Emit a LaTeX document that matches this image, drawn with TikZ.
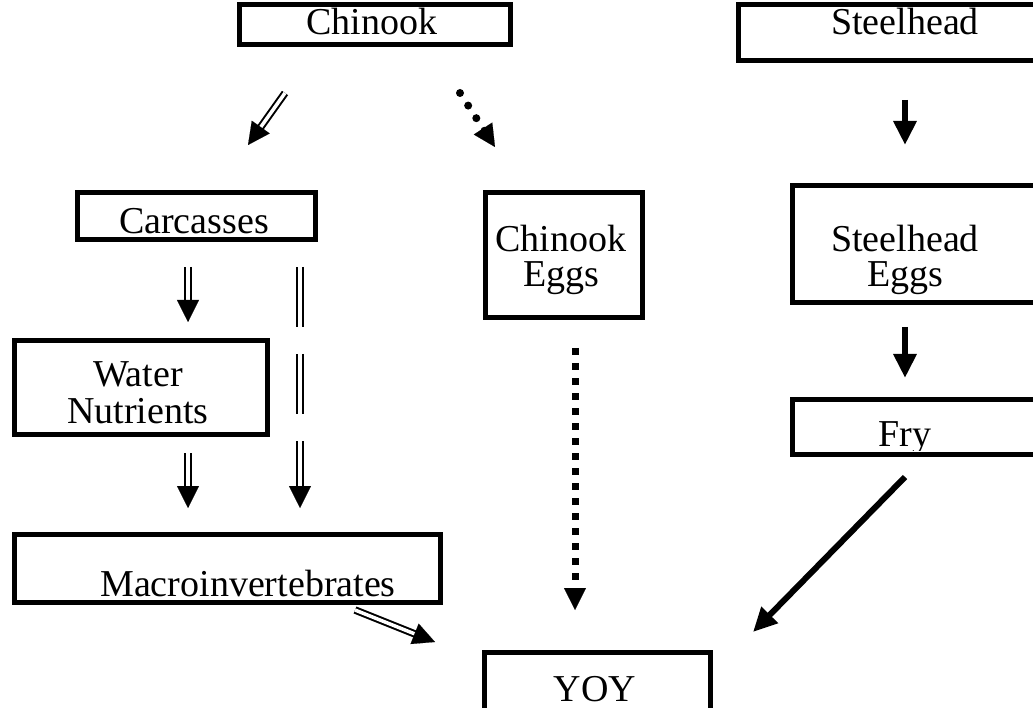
\documentclass[tikz,border=0pt]{standalone}
\usepackage{fontspec}
\setmainfont{Liberation Serif}
\usetikzlibrary{arrows.meta,calc}
\tikzset{
  box/.style={draw=black, line width=5pt, fill=none, inner sep=0pt, anchor=north west},
  lbl/.style={font=\fontsize{38}{38}\selectfont, inner sep=0pt, anchor=base},
  dbl/.style={draw=black, line width=2pt, double=white, double distance=3.5pt},
  dtip/.style={-{Triangle[length=22pt,width=22pt]}, line width=0.1pt},
  solidarr/.style={line width=6pt, -{Triangle[length=24pt,width=22pt]}},
  rounddots/.style={line width=8pt, line cap=round, dash pattern=on 0pt off 15pt},
  sqdots/.style={line width=7pt, line cap=butt, dash pattern=on 7pt off 8pt},
  dbldash/.style={dbl, dash pattern=on 60pt off 27pt},
}
\begin{document}
\begin{tikzpicture}[x=1pt,y=-1pt]
\useasboundingbox (0,0) rectangle (1033,708);
\fill[white] (0,0) rectangle (1033,708);
\begin{scope}
\clip (0,0) rectangle (1033,708);
% boxes
\node[box, minimum width=271pt, minimum height=40pt] (chinook) at (237,2) {};
\node[lbl] (chinookT) at (372,35) {Chinook};
\node[box, minimum width=310pt, minimum height=56pt] (steel) at (736,2) {};
\node[lbl] (steelT) at (905,35) {Steelhead};
\node[box, minimum width=238pt, minimum height=47pt] (carc) at (75,190) {};
\node[lbl] (carcT) at (194,234) {Carcasses};
\node[box, minimum width=157pt, minimum height=125pt] (ceggs) at (483,190) {};
\node[lbl, align=center] (ceggsT) at (561,252) {Chinook};
\node[lbl] (ceggsT2) at (561,287) {Eggs};
\node[box, minimum width=256pt, minimum height=117pt] (seggs) at (790,183) {};
\node[lbl] (seggsT) at (905,252) {Steelhead};
\node[lbl] (seggsT2) at (905,287) {Eggs};
\node[box, minimum width=253pt, minimum height=94pt] (water) at (12,338) {};
\node[lbl] (waterT) at (138,386) {Water};
\node[lbl] (waterT2) at (138,423) {Nutrients};
\node[box, minimum width=256pt, minimum height=55pt] (fry) at (790,397) {};
\node[box, minimum width=426pt, minimum height=68pt] (macro) at (12,532) {};
\node[lbl] (macroT) at (248,596) {Macroinvertebrates};
\node[box, minimum width=226pt, minimum height=70pt] (yoy) at (482,650) {};
\node[lbl] (yoyT) at (595,701) {YOY};
\end{scope}
\begin{scope}
\clip (790,397) rectangle (1046,450);
\node[lbl] (fryT) at (905,446) {Fry};
\end{scope}
% connectors
% Chinook -> Carcasses (double)
\coordinate (a1s) at ($(chinook.south west)+(48,46)$);
\coordinate (a1e) at ($(carc.north west)+(173,-45)$);
\draw[dbl, shorten >=14pt] (a1s) -- (a1e);
\draw[dtip] ($(a1s)!0.98!(a1e)$) -- (a1e);
% Chinook -> Chinook Eggs (dotted)
\coordinate (a2s) at ($(chinook.south west)+(223,46)$);
\coordinate (a2e) at ($(ceggs.north west)+(12,-43)$);
\draw[rounddots, shorten >=18pt] (a2s) -- (a2e);
\draw[dtip] ($(a2s)!0.98!(a2e)$) -- (a2e);
% Steelhead -> Steelhead Eggs
\draw[solidarr] ($(steel.south west)+(169,37)$) -- ($(seggs.north west)+(115,-38)$);
% Carcasses -> Water Nutrients
\coordinate (a4s) at ($(carc.south west)+(113,25)$);
\coordinate (a4e) at ($(water.north west)+(176,-16)$);
\draw[dbl, shorten >=18pt] (a4s) -- (a4e);
\draw[dtip] ($(a4s)!0.98!(a4e)$) -- (a4e);
% Carcasses -> Macroinvertebrates (dashed double)
\coordinate (a5s) at ($(carc.south west)+(225,25)$);
\coordinate (a5e) at ($(macro.north west)+(288,-24)$);
\draw[dbldash, shorten >=20pt] (a5s) -- (a5e);
\draw[dtip] ($(a5s)!0.98!(a5e)$) -- (a5e);
% Water Nutrients -> Macroinvertebrates
\coordinate (a6s) at ($(water.south west)+(176,16)$);
\coordinate (a6e) at ($(macro.north west)+(176,-24)$);
\draw[dbl, shorten >=18pt] (a6s) -- (a6e);
\draw[dtip] ($(a6s)!0.98!(a6e)$) -- (a6e);
% Chinook Eggs -> YOY (square dots)
\coordinate (a7s) at ($(ceggs.south west)+(92,28)$);
\coordinate (a7e) at ($(yoy.north west)+(93,-40)$);
\draw[sqdots, shorten >=22pt] (a7s) -- (a7e);
\draw[dtip] ($(a7s)!0.98!(a7e)$) -- (a7e);
% Steelhead Eggs -> Fry
\draw[solidarr] ($(seggs.south west)+(115,22)$) -- ($(fry.north west)+(115,-19)$);
% Fry -> YOY
\draw[solidarr] ($(fry.south west)+(115,20)$) -- ($(yoy.north east)+(40,-18)$);
% Macroinvertebrates -> YOY
\coordinate (a10s) at ($(macro.south west)+(343,5)$);
\coordinate (a10e) at ($(yoy.north west)+(-47,-8)$);
\draw[dbl, shorten >=18pt] (a10s) -- (a10e);
\draw[dtip] ($(a10s)!0.98!(a10e)$) -- (a10e);
\end{tikzpicture}
\end{document}
